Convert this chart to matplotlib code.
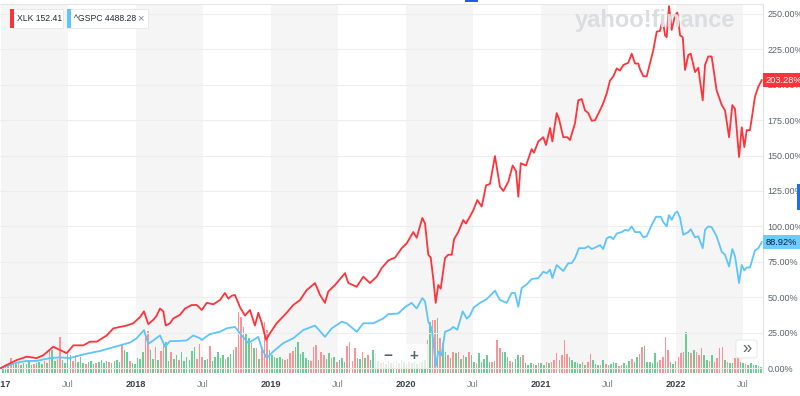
import matplotlib
matplotlib.use('Agg')
import matplotlib.pyplot as plt
import matplotlib.transforms as mtransforms
from matplotlib.patches import Rectangle, FancyBboxPatch

plt.rcParams['font.family'] = ['Liberation Sans', 'DejaVu Sans']

# cumulative return in %, time as decimal year
xlk_t = [2017.000, 2017.030, 2017.116, 2017.190, 2017.264, 2017.313, 2017.387, 2017.437, 2017.487, 2017.536,
         2017.610, 2017.659, 2017.709, 2017.783, 2017.832, 2017.881, 2017.931, 2017.980, 2018.030, 2018.059,
         2018.091, 2018.128, 2018.153, 2018.178, 2018.202, 2018.220, 2018.252, 2018.276, 2018.326, 2018.363,
         2018.413, 2018.450, 2018.487, 2018.524, 2018.573, 2018.622, 2018.659, 2018.684, 2018.709, 2018.733,
         2018.770, 2018.807, 2018.844, 2018.881, 2018.906, 2018.931, 2018.963, 2018.993, 2019.042, 2019.116,
         2019.165, 2019.215, 2019.264, 2019.326, 2019.363, 2019.400, 2019.424, 2019.474, 2019.548, 2019.573,
         2019.635, 2019.684, 2019.733, 2019.783, 2019.820, 2019.869, 2019.919, 2019.968, 2020.005, 2020.054,
         2020.079, 2020.121, 2020.141, 2020.165, 2020.183, 2020.202, 2020.220, 2020.239, 2020.257, 2020.289,
         2020.313, 2020.339, 2020.356, 2020.387, 2020.424, 2020.444, 2020.474, 2020.499, 2020.528, 2020.561,
         2020.593, 2020.622, 2020.659, 2020.696, 2020.721, 2020.758, 2020.790, 2020.815, 2020.832, 2020.850,
         2020.889, 2020.931, 2020.948, 2020.980, 2021.017, 2021.037, 2021.067, 2021.084, 2021.116, 2021.133,
         2021.165, 2021.195, 2021.215, 2021.252, 2021.276, 2021.301, 2021.326, 2021.350, 2021.376, 2021.400,
         2021.437, 2021.461, 2021.487, 2021.511, 2021.536, 2021.561, 2021.585, 2021.610, 2021.647, 2021.672,
         2021.696, 2021.721, 2021.733, 2021.758, 2021.783, 2021.807, 2021.832, 2021.857, 2021.881, 2021.901,
         2021.919, 2021.931, 2021.948, 2021.968, 2021.993, 2022.010, 2022.030, 2022.050, 2022.067, 2022.091,
         2022.109, 2022.141, 2022.165, 2022.198, 2022.215, 2022.239, 2022.264, 2022.301, 2022.339, 2022.363,
         2022.393, 2022.417, 2022.437, 2022.467, 2022.487, 2022.506, 2022.524, 2022.548, 2022.585, 2022.610,
         2022.635]
xlk_v = [0, 1.6, 5.6, 8, 7, 9, 15, 12.7, 10.5, 16,
         16, 18.6, 18.6, 23, 28, 29, 30, 31.6, 36, 40,
         31, 34, 37, 42, 40, 30, 31.6, 35, 37.6, 42,
         44.5, 44.5, 41, 46, 45, 48, 53, 49, 51, 51.6,
         43, 37, 41, 30, 39, 32, 19.8, 24.7, 31.6, 39,
         44.5, 48, 55, 60, 51.6, 46, 54, 58.6, 67, 60,
         57.4, 64.5, 60, 64.5, 70.6, 76, 78, 84.6, 88, 96,
         92, 106, 102, 80, 78, 63, 46, 58.6, 56, 77.6,
         80, 80, 91, 96, 104.5, 102, 107, 111.6, 118.6, 114,
         129, 130, 149.7, 128, 125, 131.6, 143, 139, 121, 144.6,
         143, 154.6, 152, 160, 163, 157.5, 169.5, 160, 180, 176,
         163, 163, 161, 173, 189, 190, 182, 180, 174.6, 175,
         182, 187, 194, 203, 206, 211.6, 210, 214, 215.6, 222,
         215, 215, 211, 206, 206, 215, 224.6, 237.5, 238, 245.8,
         235, 233.6, 255.6, 238.7, 249, 251, 235, 233.6, 210.5, 221,
         222, 209, 212, 189, 214, 220, 220, 196, 185.7, 182,
         163, 185.7, 183, 149, 170, 156, 168, 168, 191.6, 198.7,
         203.28]

spx_t = [2017.000, 2017.030, 2017.116, 2017.190, 2017.264, 2017.363, 2017.437, 2017.511, 2017.585, 2017.659,
         2017.733, 2017.807, 2017.881, 2017.956, 2018.005, 2018.059, 2018.091, 2018.128, 2018.178, 2018.215,
         2018.252, 2018.301, 2018.376, 2018.424, 2018.474, 2018.487, 2018.548, 2018.622, 2018.672, 2018.733,
         2018.783, 2018.832, 2018.869, 2018.906, 2018.931, 2018.968, 2019.017, 2019.091, 2019.165, 2019.239,
         2019.326, 2019.400, 2019.450, 2019.524, 2019.561, 2019.635, 2019.684, 2019.758, 2019.832, 2019.869,
         2019.943, 2019.993, 2020.042, 2020.079, 2020.121, 2020.141, 2020.165, 2020.190, 2020.207, 2020.220,
         2020.239, 2020.264, 2020.289, 2020.326, 2020.350, 2020.380, 2020.420, 2020.450, 2020.474, 2020.499,
         2020.548, 2020.598, 2020.659, 2020.696, 2020.746, 2020.783, 2020.807, 2020.832, 2020.857, 2020.894,
         2020.931, 2020.980, 2021.017, 2021.042, 2021.067, 2021.084, 2021.116, 2021.165, 2021.202, 2021.227,
         2021.252, 2021.281, 2021.326, 2021.350, 2021.376, 2021.400, 2021.437, 2021.461, 2021.487, 2021.511,
         2021.536, 2021.561, 2021.598, 2021.622, 2021.647, 2021.672, 2021.696, 2021.733, 2021.758, 2021.783,
         2021.820, 2021.852, 2021.887, 2021.906, 2021.931, 2021.948, 2021.968, 2021.993, 2022.010, 2022.030,
         2022.054, 2022.091, 2022.109, 2022.141, 2022.165, 2022.198, 2022.215, 2022.239, 2022.264, 2022.301,
         2022.339, 2022.363, 2022.393, 2022.417, 2022.437, 2022.467, 2022.487, 2022.506, 2022.524, 2022.548,
         2022.585, 2022.610, 2022.635]
spx_v = [0, 1, 3.8, 5, 5, 7, 7.5, 7, 9, 10.6,
         12, 14, 16, 18, 21, 26.8, 17, 19.5, 23, 15,
         19, 19, 19.5, 23, 21, 19.8, 24, 25.6, 28, 29,
         23, 17.6, 19.8, 22, 14, 7, 11.7, 17.6, 21, 26.8,
         30, 22, 28, 32.7, 31.6, 25.6, 31.6, 31.6, 35, 38,
         38.5, 43, 46, 42, 49.4, 47, 32.7, 28, 15, 1,
         11.5, 9, 25.6, 27, 29, 27, 40, 35, 37, 42.4,
         46, 48.7, 54.6, 48, 46, 53, 53, 43.3, 56.5, 59,
         62.8, 63.5, 68, 67, 69.4, 63.5, 72.7, 68.5, 74, 74,
         77.6, 84.6, 84.6, 86, 84, 85, 86.8, 84, 91.6, 92.8,
         91, 95, 96, 97.5, 97, 100, 96, 96, 92.3, 93,
         101, 106.8, 106.8, 103, 100, 108, 104.6, 109.4, 110.5, 106,
         94, 96, 98, 92.3, 93, 84.6, 97.5, 100, 99.5, 93,
         82, 80, 71.6, 84, 79, 60, 72.7, 69, 71, 71,
         83, 84.6, 88.92]

xlk_last = 152.41
spx_last = 4488.28

# weekly volume (relative height) and week direction, u = up, d = down
vol_start = 2017.015
vol = [6, 8, 9, 15, 10, 9, 11, 8, 10, 9,
       12, 8, 9, 10, 11, 9, 12, 10, 23, 23,
       12, 14, 36, 13, 10, 19, 18, 12, 18, 11,
       16, 10, 9, 11, 12, 9, 10, 11, 13, 10,
       12, 11, 10, 12, 13, 11, 29, 23, 21, 12,
       10, 9,
       15, 14, 21, 36, 42, 23, 14, 26, 13, 22,
       29, 31, 12, 21, 14, 18, 13, 21, 12, 16,
       13, 22, 26, 14, 29, 16, 13, 14, 27, 12,
       16, 21, 15, 18, 14, 16, 19, 23, 26, 61,
       56, 46, 40, 35, 30, 25, 25, 14, 26, 51,
       43, 23,
       18, 16, 15, 16, 14, 13, 14, 20, 22, 26,
       31, 19, 21, 15, 13, 12, 26, 28, 13, 21,
       18, 14, 20, 15, 16, 11, 13, 15, 11, 27,
       31, 12, 25, 15, 14, 21, 15, 18, 13, 23,
       20, 12, 10, 11, 9, 12, 10, 11, 12, 10,
       13, 11,
       9, 11, 10, 12, 9, 10, 11, 13, 33, 51,
       53, 53, 55, 35, 30, 21, 18, 15, 21, 20,
       21, 14, 18, 16, 21, 18, 11, 10, 20, 11,
       14, 18, 11, 11, 12, 33, 25, 21, 21, 16,
       12, 11, 14, 18, 16, 18, 10, 8, 10, 9,
       8, 10,
       10, 8, 11, 10, 11, 13, 20, 13, 18, 33,
       19, 16, 13, 11, 10, 9, 11, 8, 11, 19,
       13, 9, 8, 8, 13, 9, 8, 9, 11, 10,
       7, 8, 10, 8, 12, 14, 11, 16, 19, 26,
       27, 11, 11, 10, 20, 11, 13, 16, 36, 23,
       11, 9,
       12, 16, 20, 21, 41, 21, 20, 23, 21, 18,
       25, 18, 13, 12, 18, 11, 15, 25, 26, 13,
       11, 10, 10, 15, 20, 11, 10, 9, 8, 10,
       8, 8, 7, 6]
vol_dir = ("uuuduuduuu" "uuduuududu" "udduuuuddu" "uuduuuduuu" "uduuuuduud" "uu"
           "uuudduudud" "duuduuduuu" "uuuddduudu" "uuuuduuudd" "dduudududd" "du"
           "uuuuududdu" "uuuuudddud" "duududuuud" "ddduududuu" "uuduuduuud" "uu"
           "uduuuduudu" "dduduududu" "dududuuduu" "uuududduuu" "duuuuduuud" "ud"
           "uududddudd" "duuuuududd" "uuududuuuu" "dduuuduudd" "uuuuuudddd" "uu"
           "dddduududd" "duududdddu" "duudduuduu" "uuuu")

years = [2017, 2018, 2019, 2020, 2021, 2022]
pct_ticks = [0, 25, 50, 75, 100, 125, 150, 175, 200, 225, 250]

W, H = 800, 396
fig = plt.figure(figsize=(W / 100, H / 100), dpi=100)
rect = [0, 1 - 373 / H, 763 / W, 369 / H]
ax_v = fig.add_axes(rect)
ax = fig.add_axes(rect, sharex=ax_v)
ax.patch.set_visible(False)

x0 = 2017 - 1 / 135
x1 = 2017 + 762 / 135
ax.set_xlim(x0, x1)
ax.set_ylim(-3.53, 257.06)

# shaded half years and volume
for y in years:
    ax_v.axvspan(y, y + 0.496, color='#f5f5f5', lw=0, zorder=0)
n = min(len(vol), len(vol_dir))
week = 7 / 365.25
vt = [vol_start + i * week for i in range(n)]
cols = ['#6acc94' if d == 'u' else '#ff9095' for d in vol_dir[:n]]
ax_v.bar(vt, vol[:n], width=0.6 * week, color=cols, lw=0, zorder=2)
ax_v.set_ylim(0, 369)
ax_v.set_yticks([])
ax_v.tick_params(axis='x', bottom=False, labelbottom=False)
for s in ax_v.spines.values():
    s.set_visible(False)

for v in pct_ticks:
    ax.axhline(v, color='#ededed', lw=0.8, zorder=1)

ax.plot(spx_t, spx_v, color='#5ec4ff', lw=1.3, zorder=3)
ax.plot(xlk_t, xlk_v, color='#ff333a', lw=1.3, zorder=4)

# axes
ax.yaxis.tick_right()
ax.set_yticks(pct_ticks)
ax.set_yticklabels([f"{v:.2f}%" for v in pct_ticks])
ax.tick_params(axis='y', length=0, pad=3, labelsize=6.5, labelcolor='#5b636a')

xt, xl = [], []
for y in years:
    xt += [y, y + 0.496]
    xl += [str(y), 'Jul']
ax.set_xticks(xt)
ax.set_xticklabels(xl)
ax.tick_params(axis='x', length=0, pad=5, labelsize=6.6)
for lab in ax.get_xticklabels():
    if lab.get_text() == 'Jul':
        lab.set_color('#7d848b')
    else:
        lab.set_color('#3c4148')
        lab.set_fontweight('bold')

for k in ['left', 'bottom']:
    ax.spines[k].set_visible(False)
ax.spines['top'].set_color('#e6e6e6')
ax.spines['top'].set_linewidth(0.8)
ax.spines['right'].set_color('#e0e0e0')
ax.spines['right'].set_linewidth(0.8)

# last value tags
trans = mtransforms.blended_transform_factory(ax.transAxes, ax.transData)
ax.text(1.0035, xlk_v[-1], f"{xlk_v[-1]:.2f}%", transform=trans, ha='left', va='center',
        fontsize=6.7, color='white', clip_on=False, zorder=6,
        bbox=dict(boxstyle='square,pad=0.3', fc='#ff333a', ec='none'))
ax.text(1.0035, spx_v[-1], f"{spx_v[-1]:.2f}%", transform=trans, ha='left', va='center',
        fontsize=6.7, color='#0b2140', clip_on=False, zorder=6,
        bbox=dict(boxstyle='square,pad=0.3', fc='#6ccbff', ec='none'))


def px_rect(xa, ya, xb, yb, **kw):
    r = Rectangle((xa / W, 1 - yb / H), (xb - xa) / W, (yb - ya) / H,
                  transform=fig.transFigure, **kw)
    fig.add_artist(r)
    return r


def px_text(x, y, s, **kw):
    return fig.text(x / W, 1 - y / H, s, **kw)


# watermark
px_text(655, 21, 'yahoo!finance', ha='center', va='center', fontsize=17,
        fontweight='bold', color='#dcdde1', zorder=0.5)

# legend chips
px_rect(10, 9, 63, 28, fc='white', ec='#e6e6e6', lw=0.6, zorder=5)
px_rect(10, 9, 13.5, 28, fc='#ff333a', ec='none', zorder=6)
px_text(17, 18.5, f"XLK {xlk_last:.2f}", ha='left', va='center', fontsize=6.2,
        color='#232a31', zorder=7)
px_rect(67, 9, 148, 28, fc='white', ec='#e6e6e6', lw=0.6, zorder=5)
px_rect(67, 9, 70.5, 28, fc='#5ec4ff', ec='none', zorder=6)
px_text(74, 18.5, f"^GSPC {spx_last:.2f}", ha='left', va='center', fontsize=6.2,
        color='#232a31', zorder=7)
px_text(140.5, 18.5, '×', ha='center', va='center', fontsize=8, color='#7b8289', zorder=7)

# zoom controls
px_rect(374, 344, 428, 368, fc='white', ec='none', alpha=0.75, zorder=5)
px_text(388, 356, '−', ha='center', va='center', fontsize=11, fontweight='bold',
        color='#5b636a', zorder=6)
px_text(414, 356, '+', ha='center', va='center', fontsize=11, fontweight='bold',
        color='#5b636a', zorder=6)
fig.add_artist(FancyBboxPatch((736 / W, 1 - 358 / H), 21 / W, 18 / H,
                              boxstyle='round,pad=0,rounding_size=0.004',
                              transform=fig.transFigure, fc='white', ec='#e3e3e3',
                              lw=0.6, zorder=5))
px_text(746.5, 349, '»', ha='center', va='center', fontsize=12, color='#5b636a', zorder=6)

# small markers at the edges
px_rect(465, 0, 478, 2, fc='#1d5fe6', ec='none', zorder=6)
px_rect(797, 184, 800, 210, fc='#1d6ff0', ec='none', zorder=6)

fig.savefig('out.png', dpi=100)
plt.close(fig)
